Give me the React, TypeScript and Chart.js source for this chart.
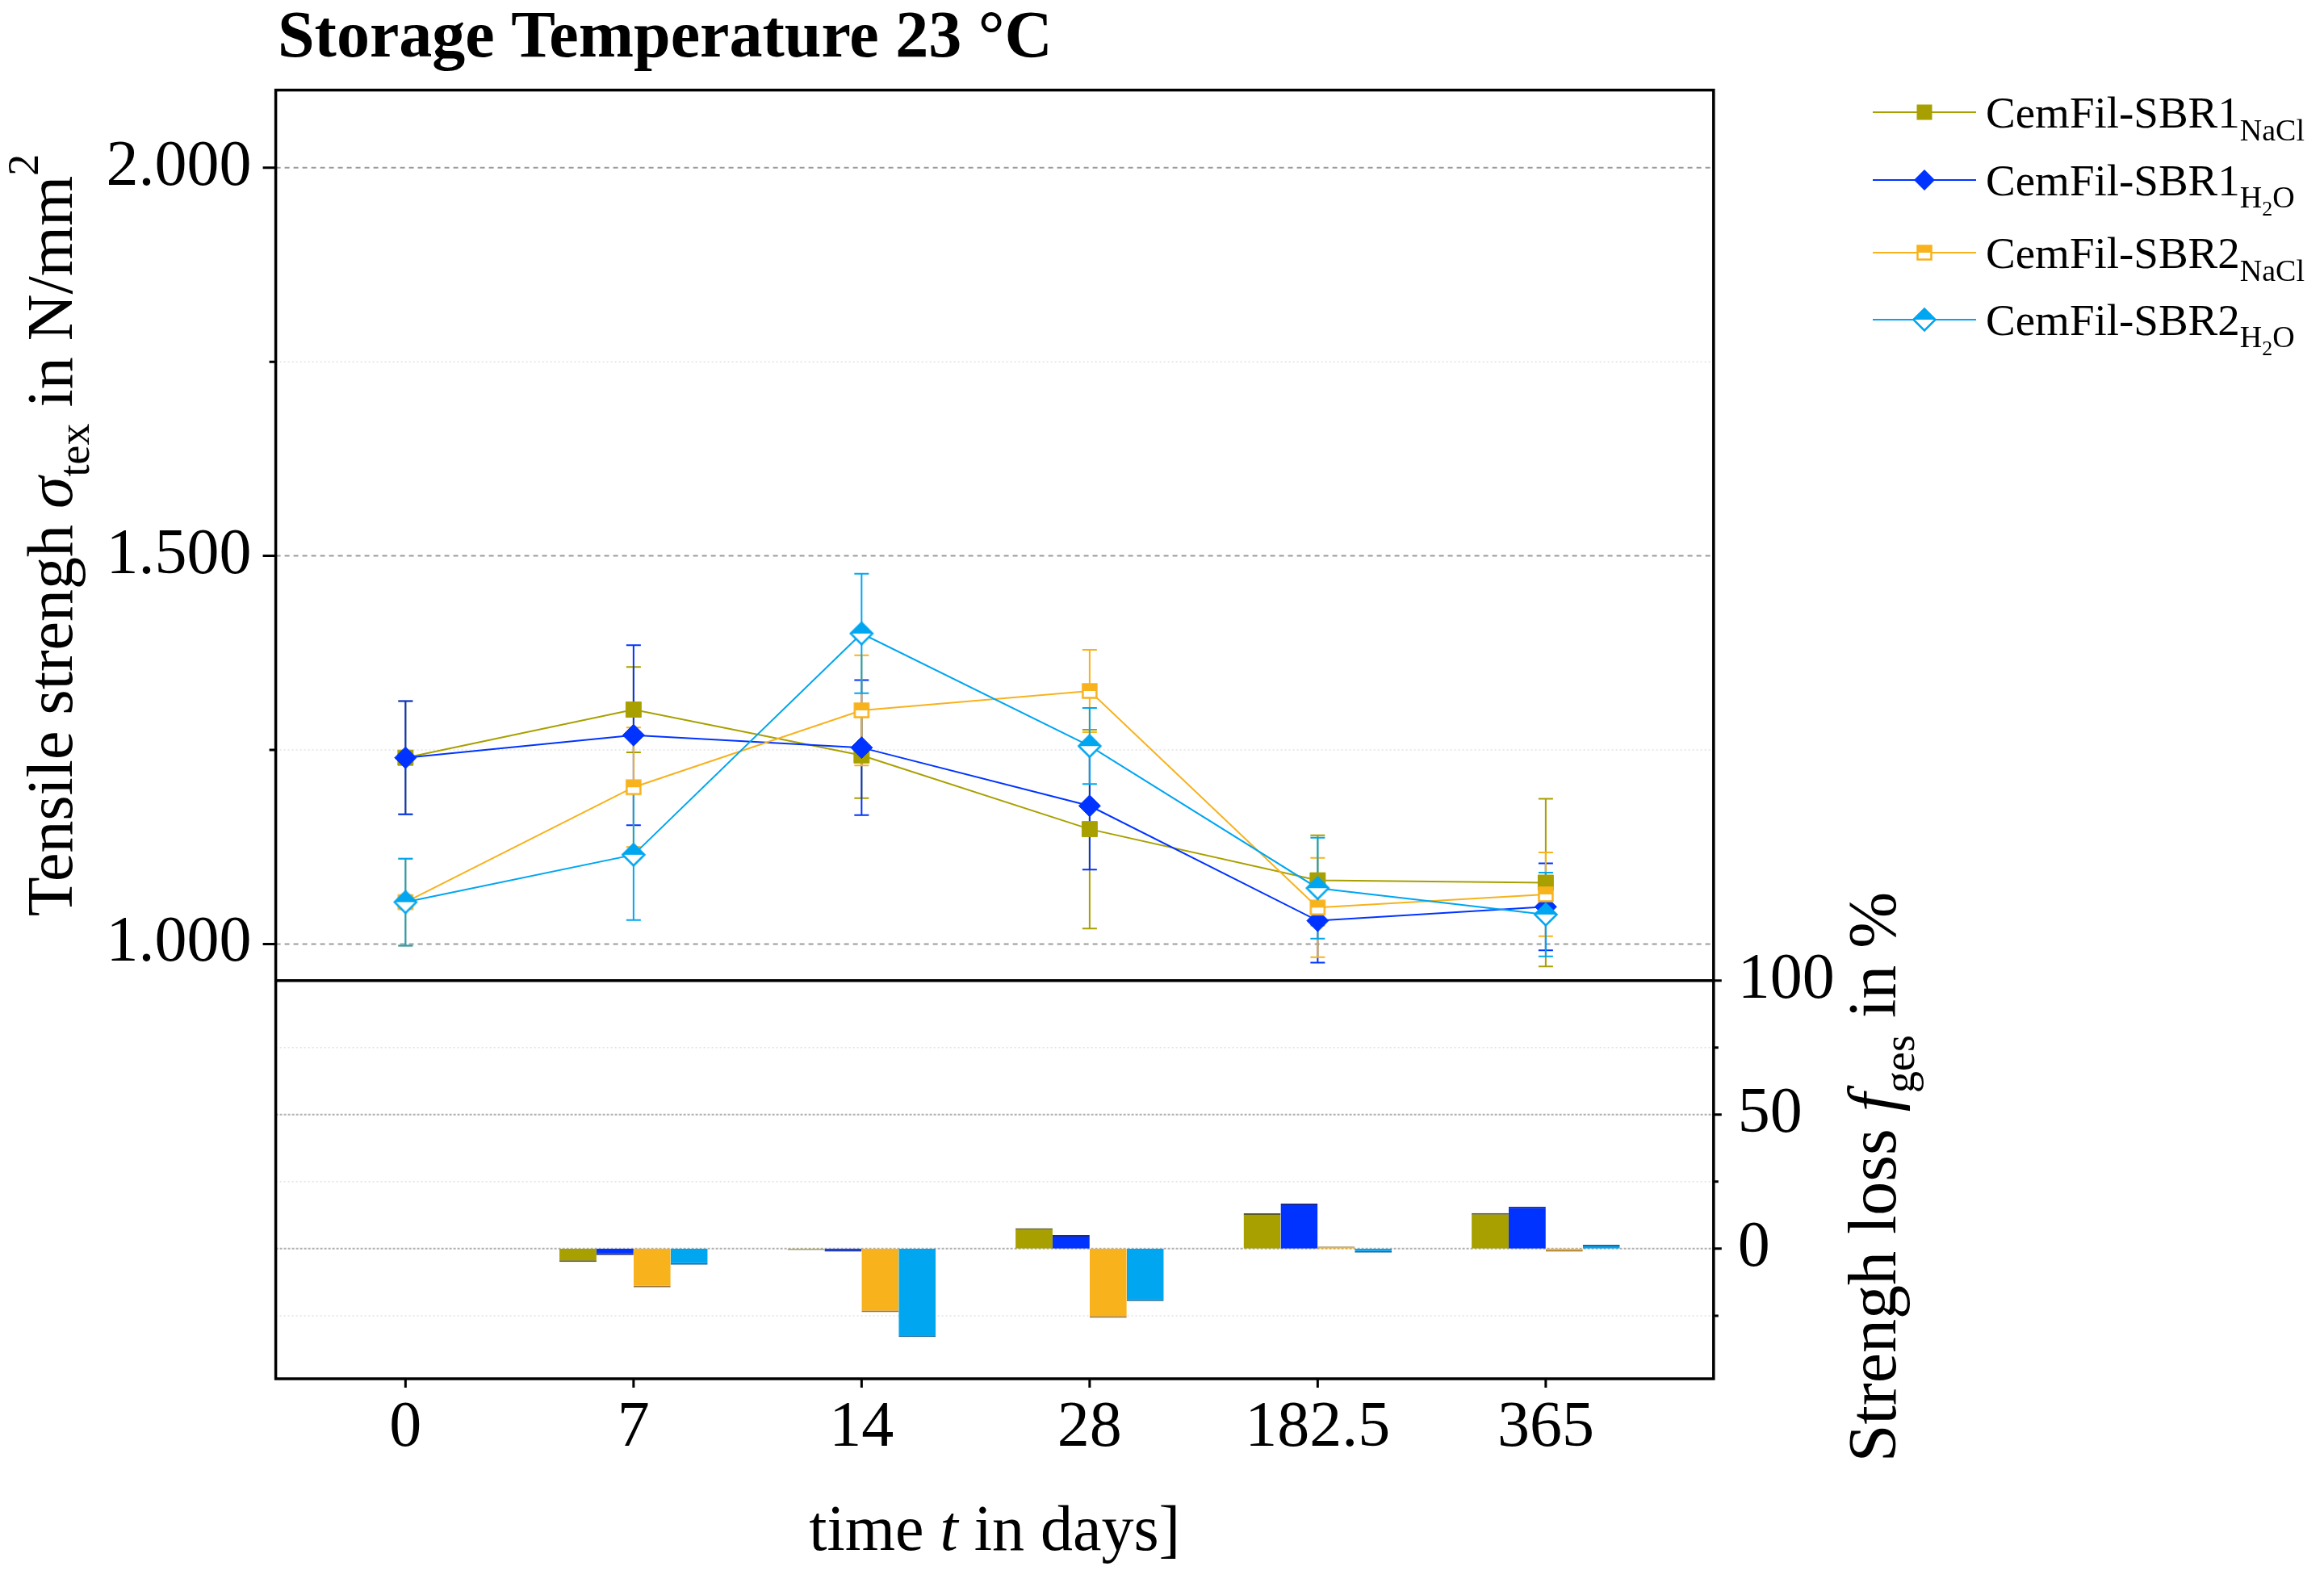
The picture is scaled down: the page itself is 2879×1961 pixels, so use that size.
import React, { useEffect, useRef } from "react";
import { Chart, registerables } from "chart.js";

Chart.register(...registerables);

const days = ["0", "7", "14", "28", "182.5", "365"];

// tensile strength in N/mm² (mean) and its deviation (±)
const sbr1NaCl = [1240, 1302, 1243, 1148, 1082, 1079];
const sbr1H2O = [1240, 1269, 1253, 1178, 1030, 1048];
const sbr2NaCl = [1054, 1202, 1301, 1326, 1047, 1064];
const sbr2H2O = [1054, 1115, 1400, 1255, 1072, 1038];

const sbr1NaClErr = [73, 55, 55, 128, 58, 108];
const sbr1H2OErr = [73, 116, 87, 82, 54, 56];
const sbr2NaClErr = [56, 77, 71, 53, 64, 54];
const sbr2H2OErr = [56, 84, 77, 49, 65, 54];

// strength loss in %
const lossSbr1NaCl = [0, -4.9, -0.5, 7.6, 13.2, 13.3];
const lossSbr1H2O = [0, -2.4, -1.1, 5.1, 16.8, 15.7];
const lossSbr2NaCl = [0, -14.4, -23.7, -25.8, 0.8, -1.1];
const lossSbr2H2O = [0, -6.0, -32.9, -19.5, -1.5, 1.5];

const strengthTicks = [1000, 1500, 2000];
const strengthMinor = [1250, 1750];
const lossTicks = [0, 50, 100];
const lossMinor = [-25, 25, 75];

const legendNames = ["CemFil-SBR1", "CemFil-SBR1", "CemFil-SBR2", "CemFil-SBR2"];
const legendSubs = ["NaCl", "H2O", "NaCl", "H2O"];

const colors = ["#A8A000", "#0033FF", "#F7B21C", "#00A6F0"];
const edgeColors = ["#5a5a20", "#1a2a90", "#9a7030", "#1a6aa0"];

const SERIF = '"Liberation Serif", "Times New Roman", serif';

type Seg = { t: string; size: number; dy?: number; italic?: boolean; bold?: boolean };

const fontOf = (s: Seg) =>
  `${s.italic ? "italic " : ""}${s.bold ? "bold " : ""}${s.size}px ${SERIF}`;

function drawRich(ctx: CanvasRenderingContext2D, segs: Seg[], x: number, y: number, center: boolean) {
  let w = 0;
  segs.forEach((s) => {
    ctx.font = fontOf(s);
    w += ctx.measureText(s.t).width;
  });
  let cx = center ? x - w / 2 : x;
  ctx.textAlign = "left";
  ctx.textBaseline = "alphabetic";
  ctx.fillStyle = "#000";
  segs.forEach((s) => {
    ctx.font = fontOf(s);
    ctx.fillText(s.t, cx, y + (s.dy || 0));
    cx += ctx.measureText(s.t).width;
  });
}

function halfSquare(color: string, side: number, lw: number) {
  const c = document.createElement("canvas");
  const size = Math.ceil(side + lw * 2 + 2);
  c.width = size;
  c.height = size;
  const ctx = c.getContext("2d")!;
  const o = (size - side) / 2;
  ctx.fillStyle = "#fff";
  ctx.fillRect(o, o, side, side);
  ctx.fillStyle = color;
  ctx.fillRect(o, o, side, side / 2);
  ctx.strokeStyle = color;
  ctx.lineWidth = lw;
  ctx.strokeRect(o, o, side, side);
  return c;
}

function halfDiamond(color: string, r: number, lw: number) {
  const c = document.createElement("canvas");
  const size = Math.ceil(2 * r + lw * 2 + 2);
  c.width = size;
  c.height = size;
  const ctx = c.getContext("2d")!;
  const m = size / 2;
  ctx.fillStyle = "#fff";
  ctx.beginPath();
  ctx.moveTo(m - r, m);
  ctx.lineTo(m + r, m);
  ctx.lineTo(m, m + r);
  ctx.closePath();
  ctx.fill();
  ctx.fillStyle = color;
  ctx.beginPath();
  ctx.moveTo(m - r, m);
  ctx.lineTo(m, m - r);
  ctx.lineTo(m + r, m);
  ctx.closePath();
  ctx.fill();
  ctx.strokeStyle = color;
  ctx.lineWidth = lw;
  ctx.beginPath();
  ctx.moveTo(m - r, m);
  ctx.lineTo(m, m - r);
  ctx.lineTo(m + r, m);
  ctx.lineTo(m, m + r);
  ctx.closePath();
  ctx.stroke();
  return c;
}

function buildConfig(): any {
  const orangeMark = halfSquare(colors[2], 17, 2.5);
  const cyanMark = halfDiamond(colors[3], 13.5, 2.5);
  const lineSets = [sbr1NaCl, sbr1H2O, sbr2NaCl, sbr2H2O];
  const errSets = [sbr1NaClErr, sbr1H2OErr, sbr2NaClErr, sbr2H2OErr];
  const lossSets = [lossSbr1NaCl, lossSbr1H2O, lossSbr2NaCl, lossSbr2H2O];
  const styles: any[] = ["rect", "rectRot", orangeMark, cyanMark];
  const radii = [13.4, 13.5, 12, 14];

  const decor = {
    id: "decor",
    beforeDatasetsDraw(chart: any) {
      const { ctx, chartArea: a, scales } = chart;
      const y = scales.y;
      const y2 = scales.y2;
      const hline = (py: number, color: string, dash: number[], lw: number) => {
        ctx.save();
        ctx.strokeStyle = color;
        ctx.lineWidth = lw;
        ctx.setLineDash(dash);
        ctx.beginPath();
        ctx.moveTo(a.left, py);
        ctx.lineTo(a.right, py);
        ctx.stroke();
        ctx.restore();
      };
      strengthTicks.forEach((v) => hline(y.getPixelForValue(v), "#9c9c9c", [6, 5], 2));
      strengthMinor.forEach((v) => hline(y.getPixelForValue(v), "#e2e2e2", [2, 3], 1.5));
      lossTicks.filter((v) => v < 100).forEach((v) => hline(y2.getPixelForValue(v), "#b0b0b0", [3, 2], 2));
      lossMinor.forEach((v) => hline(y2.getPixelForValue(v), "#e2e2e2", [2, 3], 1.5));

      // error bars
      ctx.save();
      lineSets.forEach((vals, k) => {
        const meta = chart.getDatasetMeta(k);
        ctx.strokeStyle = colors[k];
        ctx.lineWidth = 2;
        vals.forEach((v, j) => {
          const px = meta.data[j].x;
          const t = y.getPixelForValue(v + errSets[k][j]);
          const b = y.getPixelForValue(v - errSets[k][j]);
          ctx.beginPath();
          ctx.moveTo(px, t);
          ctx.lineTo(px, b);
          ctx.moveTo(px - 9, t);
          ctx.lineTo(px + 9, t);
          ctx.moveTo(px - 9, b);
          ctx.lineTo(px + 9, b);
          ctx.stroke();
        });
      });
      ctx.restore();
    },
    afterDatasetsDraw(chart: any) {
      const { ctx, chartArea: a, scales } = chart;
      const { x, y, y2 } = scales;
      ctx.save();
      ctx.strokeStyle = "#000";
      ctx.lineWidth = 3.5;
      ctx.strokeRect(a.left, a.top, a.right - a.left, a.bottom - a.top);
      const split = y2.getPixelForValue(100);
      ctx.beginPath();
      ctx.moveTo(a.left, split);
      ctx.lineTo(a.right, split);
      ctx.stroke();

      ctx.lineWidth = 3;
      ctx.beginPath();
      days.forEach((_, i) => {
        const px = x.getPixelForValue(i);
        ctx.moveTo(px, a.bottom);
        ctx.lineTo(px, a.bottom + 11);
      });
      strengthTicks.forEach((v) => {
        const py = y.getPixelForValue(v);
        ctx.moveTo(a.left, py);
        ctx.lineTo(a.left - 16, py);
      });
      strengthMinor.forEach((v) => {
        const py = y.getPixelForValue(v);
        ctx.moveTo(a.left, py);
        ctx.lineTo(a.left - 8, py);
      });
      lossTicks.forEach((v) => {
        const py = y2.getPixelForValue(v);
        ctx.moveTo(a.right, py);
        ctx.lineTo(a.right + 10, py);
      });
      lossMinor.forEach((v) => {
        const py = y2.getPixelForValue(v);
        ctx.moveTo(a.right, py);
        ctx.lineTo(a.right + 6, py);
      });
      ctx.stroke();

      // title
      drawRich(ctx, [{ t: "Storage Temperature 23 °C", size: 82, bold: true }], 344, 70, false);

      // x title
      drawRich(
        ctx,
        [
          { t: "time ", size: 80 },
          { t: "t", size: 80, italic: true },
          { t: " in days]", size: 80 },
        ],
        (a.left + a.right) / 2,
        1920,
        true
      );

      // left title
      ctx.save();
      ctx.translate(89, (a.top + split) / 2);
      ctx.rotate(-Math.PI / 2);
      drawRich(
        ctx,
        [
          { t: "Tensile strengh ", size: 80 },
          { t: "σ", size: 80, italic: true },
          { t: "tex", size: 54, dy: 21 },
          { t: " in N/mm", size: 80 },
          { t: "2", size: 54, dy: -42 },
        ],
        0,
        0,
        true
      );
      ctx.restore();

      // right title
      ctx.save();
      ctx.translate(2348, 1458);
      ctx.rotate(-Math.PI / 2);
      drawRich(
        ctx,
        [
          { t: "Strengh loss ", size: 84 },
          { t: "f", size: 84, italic: true },
          { t: "ges", size: 54, dy: 23 },
          { t: " in %", size: 84 },
        ],
        0,
        0,
        true
      );
      ctx.restore();

      // legend
      const rows = [139, 223, 313, 396];
      rows.forEach((ry, k) => {
        ctx.strokeStyle = colors[k];
        ctx.lineWidth = 2;
        ctx.setLineDash([]);
        ctx.beginPath();
        ctx.moveTo(2320, ry);
        ctx.lineTo(2448, ry);
        ctx.stroke();
        const mx = 2384;
        ctx.fillStyle = colors[k];
        if (k === 0) {
          ctx.fillRect(mx - 9.5, ry - 9.5, 19, 19);
        } else if (k === 1) {
          ctx.beginPath();
          ctx.moveTo(mx - 13, ry);
          ctx.lineTo(mx, ry - 13);
          ctx.lineTo(mx + 13, ry);
          ctx.lineTo(mx, ry + 13);
          ctx.closePath();
          ctx.fill();
        } else {
          const img = k === 2 ? orangeMark : cyanMark;
          ctx.drawImage(img, mx - img.width / 2, ry - img.height / 2);
        }
        const sub = legendSubs[k];
        const segs: Seg[] = [{ t: legendNames[k], size: 55 }];
        if (sub === "H2O") {
          segs.push({ t: "H", size: 38, dy: 15 }, { t: "2", size: 26, dy: 25 }, { t: "O", size: 38, dy: 15 });
        } else {
          segs.push({ t: sub, size: 38, dy: 16 });
        }
        drawRich(ctx, segs, 2460, ry + 19, false);
      });
      ctx.restore();
    },
  };

  const tickFont = { family: SERIF, size: 80 };

  return {
    type: "bar",
    data: {
      datasets: [
        ...lineSets.map((vals, k) => ({
          type: "line",
          data: vals.map((v, i) => ({ x: i, y: v })),
          xAxisID: "x",
          yAxisID: "y",
          borderColor: colors[k],
          borderWidth: 2,
          pointStyle: styles[k],
          pointRadius: radii[k],
          pointBackgroundColor: colors[k],
          pointBorderColor: colors[k],
          pointBorderWidth: 1,
          order: 4 - k,
        })),
        ...lossSets.map((vals, k) => ({
          type: "bar",
          data: vals.map((v, i) => ({ x: i, y: v })),
          xAxisID: "x",
          yAxisID: "y2",
          backgroundColor: colors[k],
          borderColor: edgeColors[k],
          borderWidth: { top: 2, bottom: 2, left: 0, right: 0 },
          borderSkipped: "start",
          categoryPercentage: 0.65,
          barPercentage: 1,
          order: 10 + k,
        })),
      ],
    },
    options: {
      responsive: true,
      maintainAspectRatio: false,
      animation: false,
      layout: { padding: { top: 111.6, left: 0, right: 0, bottom: 0 } },
      plugins: { legend: { display: false }, tooltip: { enabled: false }, title: { display: false } },
      scales: {
        x: {
          type: "linear",
          position: "bottom",
          min: -0.569,
          max: 5.736,
          offset: false,
          grid: { display: false },
          border: { display: false },
          ticks: {
            font: tickFont,
            color: "#000",
            padding: 6,
            autoSkip: false,
            maxRotation: 0,
            callback: (v: any) => days[Number(v)] ?? "",
          },
          afterBuildTicks: (s: any) => {
            s.ticks = days.map((_, i) => ({ value: i }));
          },
          afterFit: (s: any) => {
            s.height = 253;
          },
        },
        y: {
          type: "linear",
          position: "left",
          min: 440,
          max: 2100,
          grid: { display: false },
          border: { display: false },
          ticks: {
            font: tickFont,
            color: "#000",
            padding: 22,
            callback: (v: any) => (Number(v) / 1000).toFixed(3),
          },
          afterBuildTicks: (s: any) => {
            s.ticks = strengthTicks.map((v) => ({ value: v }));
          },
          afterFit: (s: any) => {
            s.width = 341.6;
          },
        },
        y2: {
          type: "linear",
          position: "right",
          min: -48.5,
          max: 432,
          grid: { display: false },
          border: { display: false },
          ticks: {
            font: tickFont,
            color: "#000",
            padding: 22,
            callback: (v: any) => String(v),
          },
          afterBuildTicks: (s: any) => {
            s.ticks = lossTicks.map((v) => ({ value: v }));
          },
          afterFit: (s: any) => {
            s.width = 756.2;
          },
        },
      },
    },
    plugins: [decor],
  };
}

export default function App() {
  const canvasRef = useRef<HTMLCanvasElement | null>(null);
  const chartRef = useRef<Chart | null>(null);

  useEffect(() => {
    if (chartRef.current) chartRef.current.destroy();
    if (canvasRef.current) {
      chartRef.current = new Chart(canvasRef.current, buildConfig());
    }
    return () => {
      chartRef.current?.destroy();
      chartRef.current = null;
    };
  }, []);

  return (
    <div style={{ position: "fixed", left: 0, top: 0, width: 2879, height: 1961, background: "#fff" }}>
      <canvas ref={canvasRef} />
    </div>
  );
}
